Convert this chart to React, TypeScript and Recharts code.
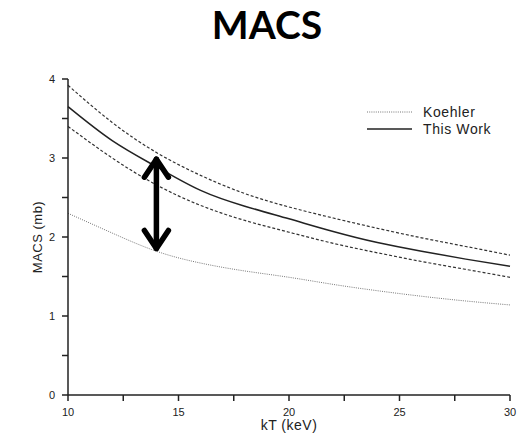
import React from 'react';
import { LineChart, Line, XAxis, YAxis, ReferenceLine, Legend } from 'recharts';

const kT = [10, 12, 14, 16, 18, 20, 22, 24, 26, 28, 30];
const upperBand = [3.92, 3.45, 3.07, 2.78, 2.55, 2.38, 2.24, 2.11, 1.99, 1.88, 1.77];
const thisWork = [3.65, 3.22, 2.89, 2.59, 2.39, 2.23, 2.07, 1.93, 1.82, 1.72, 1.63];
const lowerBand = [3.4, 3.0, 2.66, 2.4, 2.21, 2.06, 1.92, 1.8, 1.69, 1.59, 1.49];
const koehler = [2.3, 2.05, 1.82, 1.67, 1.57, 1.49, 1.4, 1.32, 1.25, 1.19, 1.14];

const xTicks = [10, 12.5, 15, 17.5, 20, 22.5, 25, 27.5, 30];
const yTicks = [0, 0.5, 1, 1.5, 2, 2.5, 3, 3.5, 4];

const arrowKT = 14;
const arrowTop = 3.01;
const arrowBottom = 1.83;

const legendItems = [
  { name: 'Koehler', dash: '1 1.2', color: '#777', width: 1 },
  { name: 'This Work', dash: undefined, color: '#222', width: 1.6 },
];

const data = kT.map((k, i) => ({
  kT: k,
  upper: upperBand[i],
  work: thisWork[i],
  lower: lowerBand[i],
  koehler: koehler[i],
}));

const FONT = '"Liberation Sans", Arial, sans-serif';
const AX = '#222';

const xFmt = (v: number) => (v % 5 === 0 ? String(v) : '');
const yFmt = (v: number) => (Number.isInteger(v) ? String(v) : '');

const ArrowShape = (props: any) => {
  const { x1, y1, x2, y2 } = props;
  const x = (x1 + x2) / 2;
  const top = Math.min(y1, y2);
  const bot = Math.max(y1, y2);
  const hw = 12;
  const hh = 20;
  return (
    <g stroke="#000" strokeWidth={5.5} fill="none" strokeLinecap="round" strokeLinejoin="round">
      <line x1={x} y1={top + 2} x2={x} y2={bot - 2} />
      <polyline points={`${x - hw},${top + hh} ${x},${top + 2} ${x + hw},${top + hh}`} />
      <polyline points={`${x - hw},${bot - hh} ${x},${bot - 2} ${x + hw},${bot - hh}`} />
    </g>
  );
};

const LegendContent = () => (
  <svg width={150} height={40} style={{ display: 'block' }}>
    {legendItems.map((it, i) => (
      <g key={it.name}>
        <line
          x1={2}
          x2={47}
          y1={9 + i * 17}
          y2={9 + i * 17}
          stroke={it.color}
          strokeWidth={it.width}
          strokeDasharray={it.dash}
        />
        <text
          x={58}
          y={9 + i * 17}
          dy="0.36em"
          fontFamily={FONT}
          fontSize={14}
          fill="#222"
          letterSpacing={0.6}
        >
          {it.name}
        </text>
      </g>
    ))}
  </svg>
);

export default function App() {
  return (
    <div style={{ position: 'absolute', left: 0, top: 0, width: 520, height: 433, background: '#fff' }}>
      <svg width={520} height={60} style={{ position: 'absolute', left: 0, top: 0, overflow: 'visible' }}>
        <text
          x={267}
          y={39}
          textAnchor="middle"
          fontFamily='Lato, "Open Sans", sans-serif'
          fontWeight={700}
          fontSize={39}
          fill="#000"
        >
          MACS
        </text>
      </svg>
      <div style={{ position: 'absolute', left: 0, top: 0 }}>
        <LineChart width={520} height={433} data={data} margin={{ top: 79, right: 10, bottom: 0, left: 0 }}>
          <XAxis
            dataKey="kT"
            type="number"
            domain={[10, 30]}
            ticks={xTicks}
            interval={0}
            tickFormatter={xFmt}
            height={38}
            tickSize={6}
            tickMargin={7}
            stroke={AX}
            strokeWidth={1.5}
            tick={{ fontSize: 11, fill: '#222', fontFamily: FONT }}
            label={{ value: 'kT  (keV)', position: 'center', dy: 11, fontSize: 14, fill: '#222', fontFamily: FONT, letterSpacing: 0.5 } as any}
          />
          <XAxis
            xAxisId="top"
            orientation="top"
            type="number"
            domain={[10, 30]}
            ticks={xTicks}
            interval={0}
            height={0}
            tickSize={6}
            tick={false}
            stroke={AX}
            strokeWidth={1.5}
          />
          <YAxis
            type="number"
            domain={[0, 4]}
            ticks={yTicks}
            interval={0}
            tickFormatter={yFmt}
            width={68}
            tickSize={6}
            tickMargin={7}
            stroke={AX}
            strokeWidth={1.5}
            tick={{ fontSize: 11, fill: '#222', fontFamily: FONT }}
            label={{ value: 'MACS  (mb)', angle: -90, position: 'center', dx: 3, fontSize: 13, fill: '#222', fontFamily: FONT, letterSpacing: 0.5 } as any}
          />
          <YAxis
            yAxisId="right"
            orientation="right"
            type="number"
            domain={[0, 4]}
            ticks={yTicks}
            interval={0}
            width={0}
            tickSize={6}
            tick={false}
            stroke={AX}
            strokeWidth={1.5}
          />
          <Legend
            layout="vertical"
            align="center"
            verticalAlign="middle"
            content={LegendContent}
            wrapperStyle={{ position: 'absolute', left: 365, top: 103, width: 150, height: 40 }}
          />
          <Line type="natural" dataKey="upper" stroke="#333" strokeWidth={1.2} strokeDasharray="3 2" dot={false} isAnimationActive={false} />
          <Line type="natural" dataKey="work" stroke="#222" strokeWidth={1.5} dot={false} isAnimationActive={false} />
          <Line type="natural" dataKey="lower" stroke="#333" strokeWidth={1.2} strokeDasharray="3 2" dot={false} isAnimationActive={false} />
          <Line type="natural" dataKey="koehler" stroke="#777" strokeWidth={1} strokeDasharray="1 1.2" dot={false} isAnimationActive={false} />
          <ReferenceLine
            segment={[{ x: arrowKT, y: arrowTop }, { x: arrowKT, y: arrowBottom }]}
            shape={ArrowShape}
            ifOverflow="visible"
          />
        </LineChart>
      </div>
    </div>
  );
}
